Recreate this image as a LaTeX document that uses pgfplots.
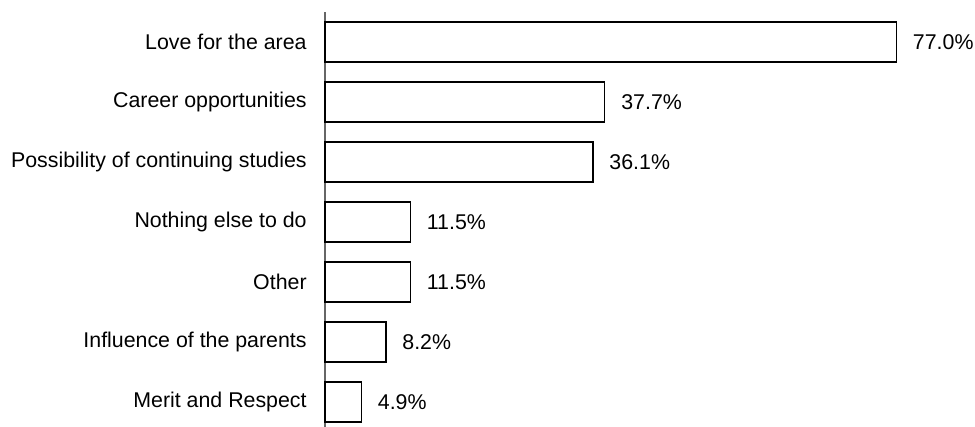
\documentclass[border=0pt]{standalone}
\usepackage{fontspec}
\setmainfont{Liberation Sans}
\usepackage{pgfplots}
\pgfplotsset{compat=1.18}
\begin{document}
\fontsize{12.2pt}{14pt}\selectfont
\begin{tikzpicture}
\begin{axis}[
  xbar,
  scale only axis,
  width=339.2pt, height=237.1pt,
  xmin=0, xmax=80,
  ymin=-0.5, ymax=6.417,
  y dir=reverse,
  bar width=0.667,
  axis x line=none,
  axis y line=left,
  axis line style={-, draw=gray!80!black, line width=0.7pt},
  ytick={0,1,2,3,4,5,6},
  yticklabels={Love for the area,Career opportunities,Possibility of continuing studies,Nothing else to do,Other,Influence of the parents,Merit and Respect},
  major tick length=0pt,
  yticklabel style={font=\fontsize{12.2pt}{14pt}\selectfont, inner sep=0pt, xshift=-10.3pt},
  /pgf/number format/assume math mode=true,
  clip=false,
  nodes near coords={\pgfmathprintnumber[fixed,fixed zerofill,precision=1]{\pgfplotspointmeta}\%},
  nodes near coords style={font=\fontsize{12.2pt}{14pt}\selectfont, anchor=west, inner sep=0pt, xshift=9.1pt},
]
\addplot[draw=black, fill=white, line width=0.75pt] coordinates {
  (77.0,0) (37.7,1) (36.1,2) (11.5,3) (11.5,4) (8.2,5) (4.9,6)
};
\coordinate (TL) at (axis cs:0,-0.5);
\end{axis}
\pgfresetboundingbox
\path ([xshift=-185.7pt,yshift=6.86pt]TL) rectangle ([xshift=371.4pt,yshift=-237.1pt]TL);
\end{tikzpicture}
\end{document}
